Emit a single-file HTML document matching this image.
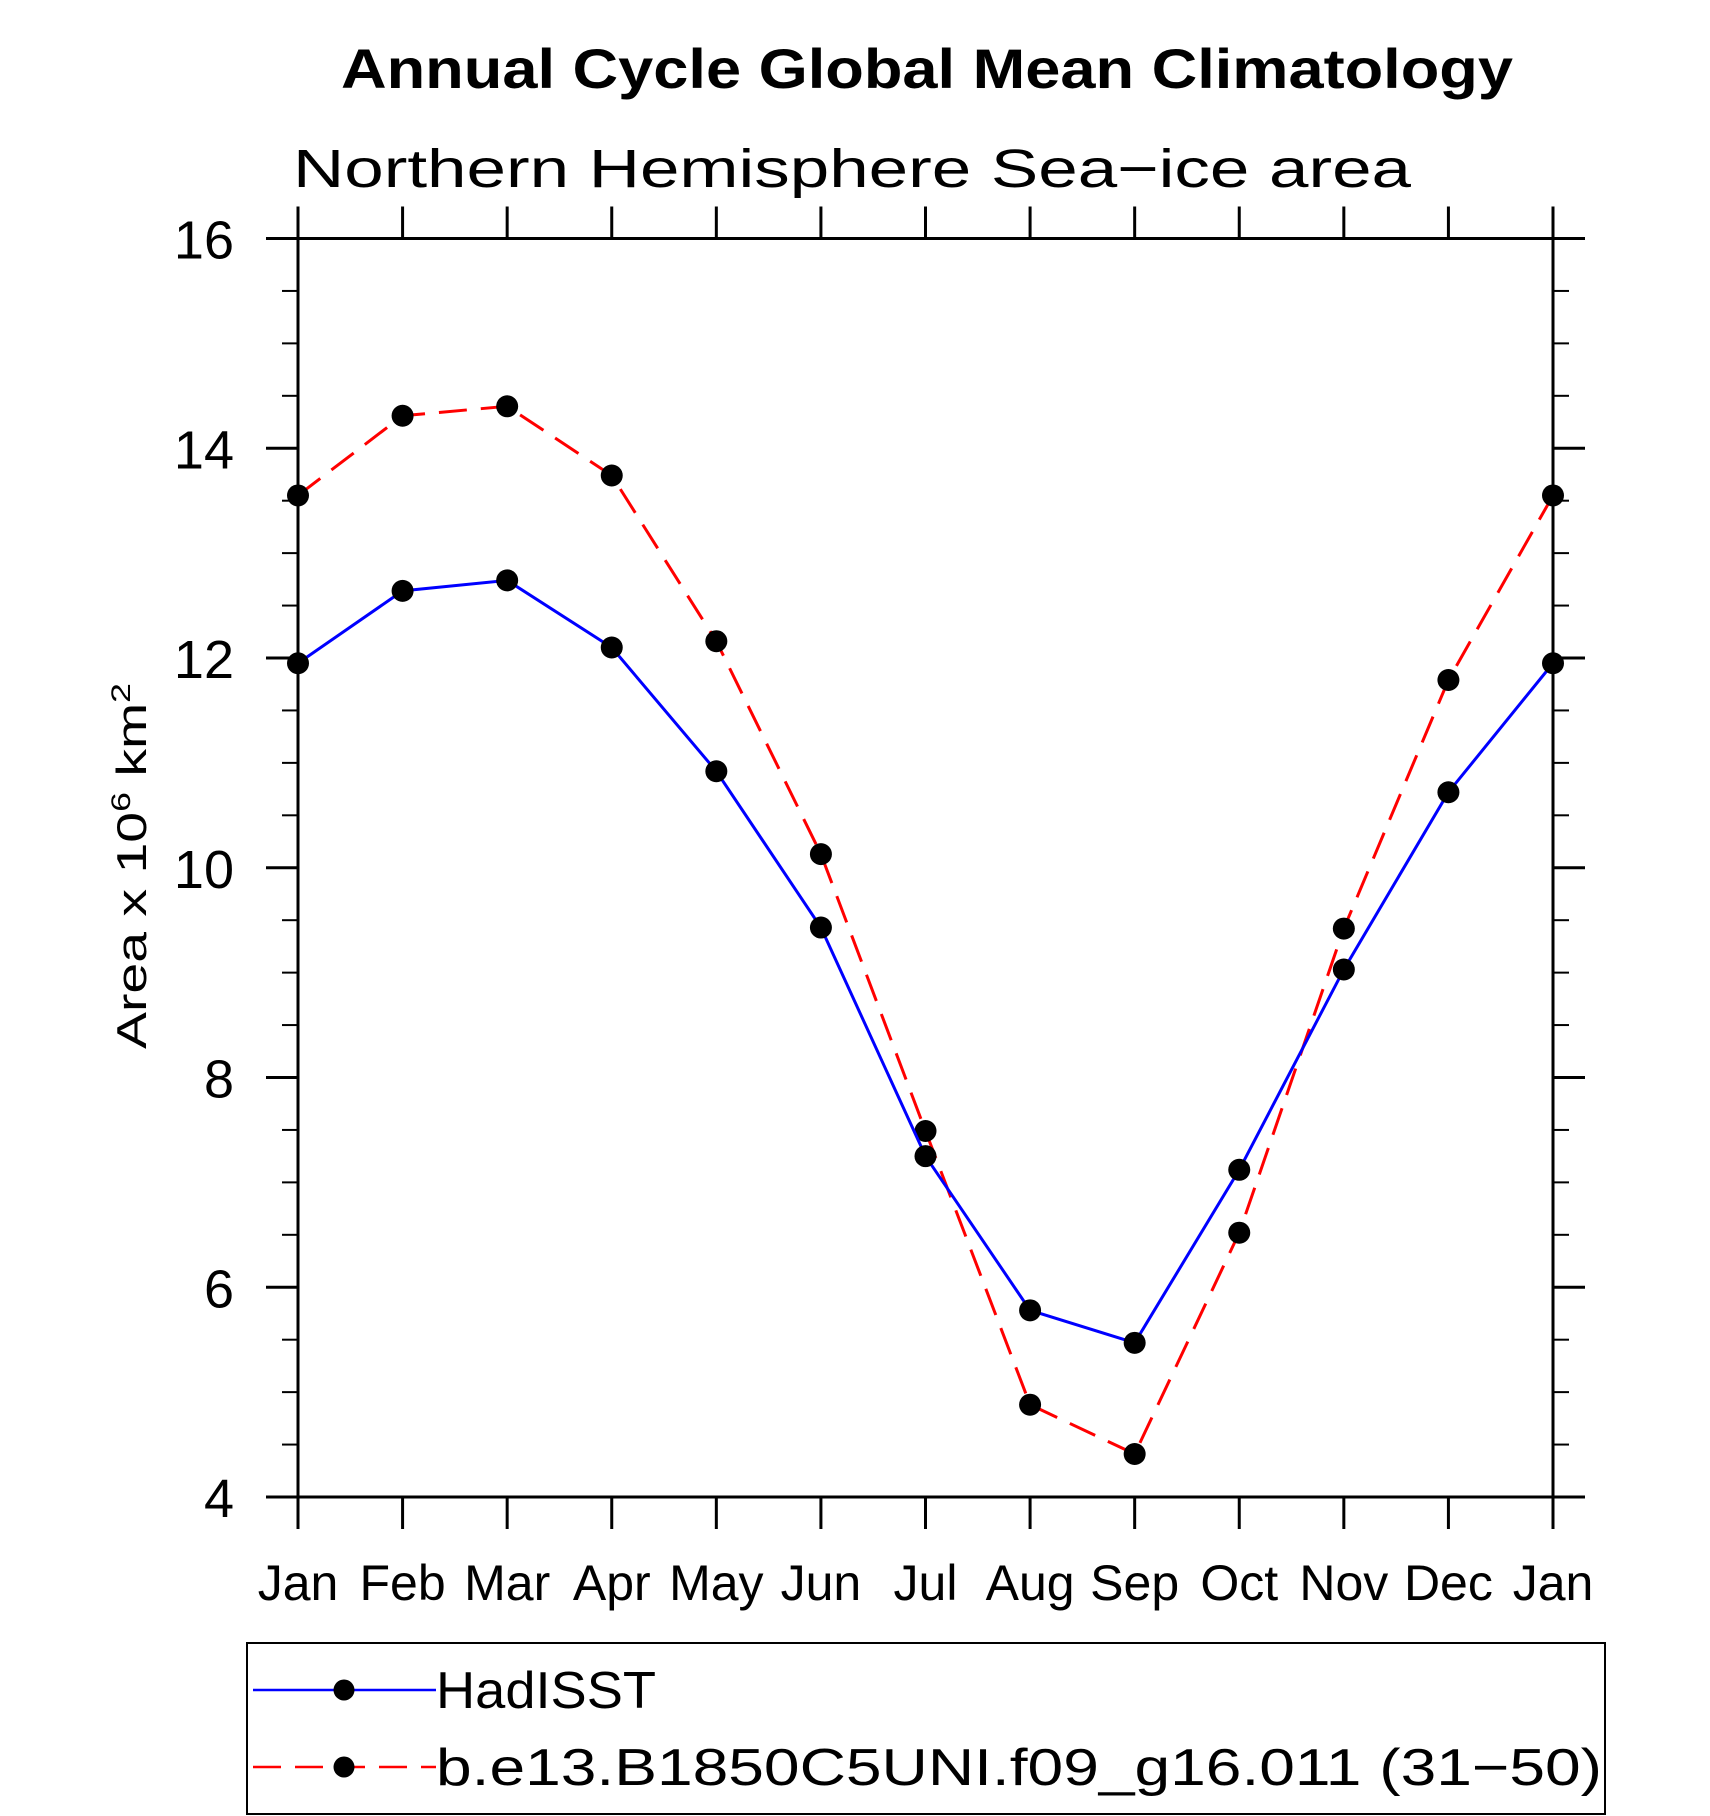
<!DOCTYPE html>
<html><head><meta charset="utf-8"><style>
html,body{margin:0;padding:0;background:#fff}
svg{display:block}
text{font-family:"Liberation Sans",sans-serif}
</style></head><body>
<svg id="chart" width="1710" height="1816" viewBox="0 0 1710 1816" xmlns="http://www.w3.org/2000/svg">
<text x="927" y="88" text-anchor="middle" font-size="56" font-weight="bold" textLength="1172" lengthAdjust="spacingAndGlyphs">Annual Cycle Global Mean Climatology</text>
<text x="293" y="187" font-size="54" textLength="1118" lengthAdjust="spacingAndGlyphs">Northern Hemisphere Sea−ice area</text>
<text transform="translate(146,866) rotate(-90)" text-anchor="middle" font-size="42" textLength="366" lengthAdjust="spacingAndGlyphs">Area x 10<tspan font-size="27" dy="-16">6</tspan><tspan dy="16"> km</tspan><tspan font-size="27" dy="-16">2</tspan></text>
<g id="axes"></g>
<g id="series"></g>
<g id="legend">
<rect x="247" y="1643" width="1358" height="171" fill="none" stroke="#000" stroke-width="2"/>
<g>
<line x1="253" y1="1690" x2="436" y2="1690" stroke="#0000ff" stroke-width="2.5"/>
<circle cx="344" cy="1690" r="10.5" fill="#000"/>
<text x="436" y="1708" font-size="52" textLength="220" lengthAdjust="spacingAndGlyphs">HadISST</text>
</g>
<g>
<line x1="253" y1="1767" x2="436" y2="1767" stroke="#ff0000" stroke-width="2.5" stroke-dasharray="28,14"/>
<circle cx="344" cy="1767" r="10.5" fill="#000"/>
<text x="436" y="1785" font-size="52" textLength="1166" lengthAdjust="spacingAndGlyphs">b.e13.B1850C5UNI.f09_g16.011 (31−50)</text>
</g>
</g>
</svg>
<script>
const months = ["Jan","Feb","Mar","Apr","May","Jun","Jul","Aug","Sep","Oct","Nov","Dec","Jan"];
const hadisst = [11.95,12.64,12.74,12.10,10.92,9.43,7.25,5.78,5.47,7.12,9.03,10.72,11.95];
const model = [13.55,14.31,14.40,13.74,12.16,10.13,7.49,4.88,4.41,6.52,9.42,11.79,13.55];
const yTicks = [4,6,8,10,12,14,16];

const NS="http://www.w3.org/2000/svg";
const X0=298,X1=1553,Y0=1497,Y1=238.5,YMIN=4,YMAX=16;
function xs(i){return X0+(X1-X0)*i/(months.length-1);}
function ys(v){return Y0-(Y0-Y1)*(v-YMIN)/(YMAX-YMIN);}
function mk(tag,attrs,parent){const e=document.createElementNS(NS,tag);for(const k in attrs)e.setAttribute(k,attrs[k]);parent.appendChild(e);return e;}
const axes=document.getElementById('axes');
const frame=mk('rect',{x:X0,y:Y1,width:X1-X0,height:Y0-Y1,fill:'none',stroke:'#000','stroke-width':3},axes);


months.forEach((m,i)=>{
  const x=xs(i);
  mk('line',{x1:x,y1:Y1,x2:x,y2:Y1-32,stroke:'#000','stroke-width':3},axes);
  mk('line',{x1:x,y1:Y0,x2:x,y2:Y0+32,stroke:'#000','stroke-width':3},axes);
  const t=mk('text',{x:x,y:1600,'text-anchor':'middle','font-size':50},axes);
  t.textContent=m;
  
  
});
for(let v=YMIN;v<=YMAX+1e-9;v+=0.5){
  const y=ys(v);const major=Math.abs(v-Math.round(v))<1e-9&&Math.round(v)%2===0;
  const L=major?32:16;
  mk('line',{x1:X0-L,y1:y,x2:X0,y2:y,stroke:'#000','stroke-width':major?3:2},axes);
  mk('line',{x1:X1,y1:y,x2:X1+L,y2:y,stroke:'#000','stroke-width':major?3:2},axes);
}
yTicks.forEach(v=>{
  const t=mk('text',{x:234,y:ys(v)+20,'text-anchor':'end','font-size':54},axes);
  t.textContent=String(v);
  
  
});
const series=document.getElementById('series');
function draw(vals,color,dash,name){
  const g=mk('g',{},series);
  
  
  const pts=vals.map((v,i)=>xs(i)+','+ys(v)).join(' ');
  const attrs={points:pts,fill:'none',stroke:color,'stroke-width':3};
  if(dash)attrs['stroke-dasharray']=dash;
  const pl=mk('polyline',attrs,g);
  
  
  vals.forEach((v,i)=>{
    const c=mk('circle',{cx:xs(i),cy:ys(v),r:11,fill:'#000'},g);
    
    
  });
}
draw(model,'#ff0000','28,14','model-series');
draw(hadisst,'#0000ff',null,'hadisst-series');
</script>
</body></html>
